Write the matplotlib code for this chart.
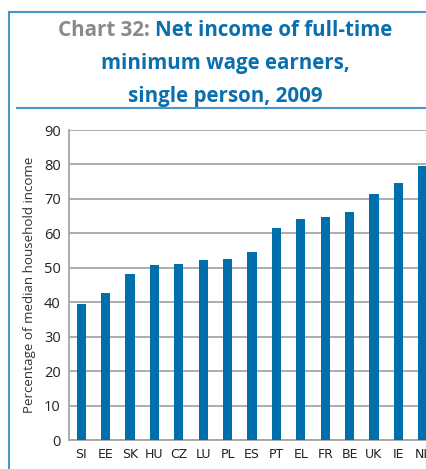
import numpy as np
import matplotlib.pyplot as plt
from matplotlib.lines import Line2D

# data
countries = ["SI", "EE", "SK", "HU", "CZ", "LU", "PL", "ES", "PT",
             "EL", "FR", "BE", "UK", "IE", "NL"]
values = [39.5, 42.7, 48.2, 50.8, 51.1, 52.3, 52.5, 54.6, 61.6,
          64.2, 64.7, 66.2, 71.4, 74.6, 79.6]
yticks = [0, 10, 20, 30, 40, 50, 60, 70, 80, 90]

bar_color = "#0070ad"
grid_color = "#a6a6a6"
frame_color = "#4a94c8"
title_blue = "#0a6fae"
title_gray = "#8a8a8a"

W, H = 427, 469
fig = plt.figure(figsize=(W / 100, H / 100), dpi=100)

# axes in pixel terms: left spine at x=69, zero at y=440, 90 at y=130
ax = fig.add_axes([69 / W, 1 - 440 / H, 1 - 69 / W, 310 / H])
x = np.arange(len(countries))
ax.bar(x, values, width=0.37, color=bar_color, zorder=3)
ax.set_xlim(-0.5, -0.5 + (W - 69) / 24.4)
ax.set_ylim(0, 90)
ax.set_yticks(yticks)
ax.set_xticks(x)
ax.set_xticklabels(countries, family=["Liberation Sans Narrow", "DejaVu Sans"],
                   fontsize=9, color="#333333")
ax.tick_params(axis="both", length=0, colors="#222222")
ax.tick_params(axis="y", labelsize=10.5, pad=6)
ax.tick_params(axis="x", pad=6)
for lab in ax.get_yticklabels():
    lab.set_family(["Open Sans", "DejaVu Sans"])
ax.grid(axis="y", color=grid_color, linewidth=1.3, zorder=1)
for s in ["top", "right"]:
    ax.spines[s].set_visible(False)
for s in ["left", "bottom"]:
    ax.spines[s].set_color(grid_color)
    ax.spines[s].set_linewidth(1.3)
ax.set_ylabel("Percentage of median household income", fontsize=9.6,
              family=["Open Sans", "DejaVu Sans"], color="#333333")
ax.yaxis.set_label_coords(-0.093, 0.5)

# blue frame lines
fig.add_artist(Line2D([9 / W, 9 / W], [0, 1 - 12 / H], transform=fig.transFigure,
                      color=frame_color, linewidth=1.5))
fig.add_artist(Line2D([9 / W, 1], [1 - 12 / H, 1 - 12 / H], transform=fig.transFigure,
                      color=frame_color, linewidth=1.5))
fig.add_artist(Line2D([17 / W, 1], [1 - 108 / H, 1 - 108 / H], transform=fig.transFigure,
                      color=frame_color, linewidth=1.5))

# title, first line in two colours
tkw = dict(fontsize=14.8, fontweight="bold", family=["Open Sans", "DejaVu Sans"],
           va="center")
cx = 225 / W
t1 = fig.text(cx, 1 - 31 / H, "Chart 32: ", color=title_gray, ha="left", **tkw)
t2 = fig.text(cx, 1 - 31 / H, "Net income of full-time", color=title_blue, ha="left", **tkw)
r = fig.canvas.get_renderer()
w1 = t1.get_window_extent(r).width
w2 = t2.get_window_extent(r).width
start = 225 - (w1 + w2) / 2
t1.set_x(start / W)
t2.set_x((start + w1) / W)
fig.text(cx, 1 - 63 / H, "minimum wage earners,", color=title_blue, ha="center", **tkw)
fig.text(cx, 1 - 96 / H, "single person, 2009", color=title_blue, ha="center", **tkw)

fig.savefig("out.png", dpi=100)
